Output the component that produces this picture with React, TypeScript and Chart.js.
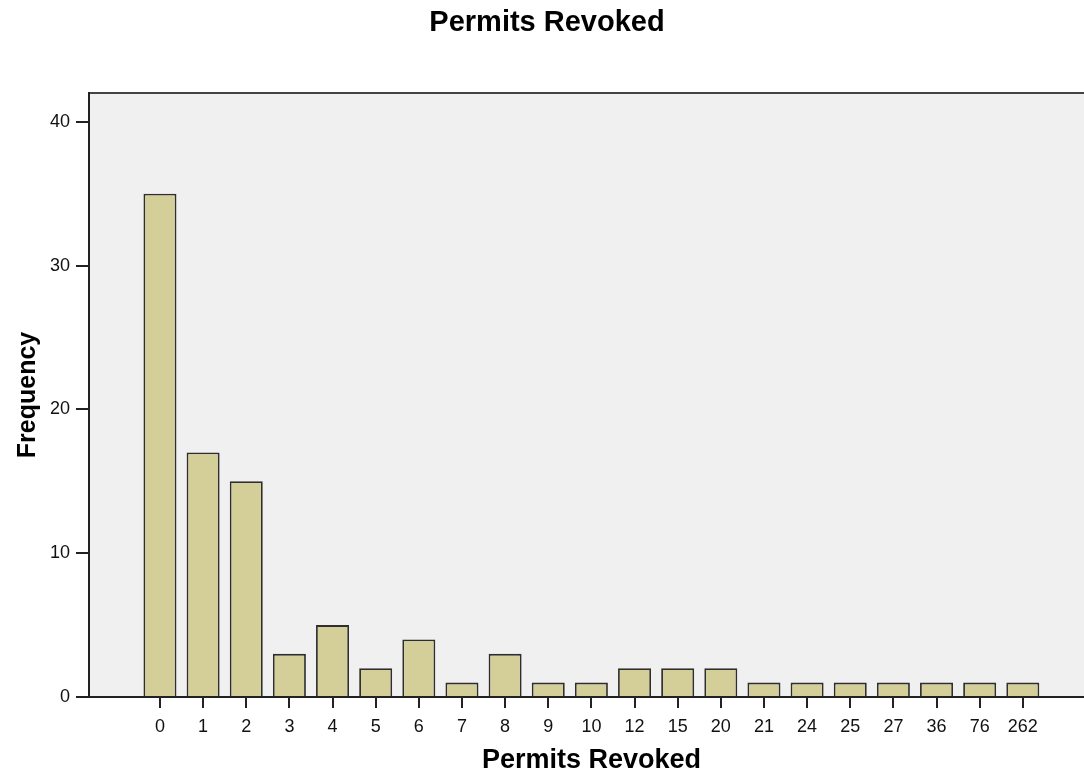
import { useEffect, useRef } from 'react';
import { Chart, registerables } from 'chart.js';
Chart.register(...registerables);

const categories = ['0', '1', '2', '3', '4', '5', '6', '7', '8', '9', '10', '12', '15', '20', '21', '24', '25', '27', '36', '76', '262'];
const frequencies = [35, 17, 15, 3, 5, 2, 4, 1, 3, 1, 1, 2, 2, 2, 1, 1, 1, 1, 1, 1, 1];
const yTicks = [0, 10, 20, 30, 40];

const FONT = "'Liberation Sans', Arial, Helvetica, sans-serif";

const plotBackground = {
  id: 'plotBackground',
  beforeDraw(chart: any) {
    const { ctx, chartArea: a } = chart;
    ctx.save();
    ctx.fillStyle = '#f0f0f0';
    ctx.fillRect(a.left, a.top, a.right - a.left, a.bottom - a.top);
    ctx.strokeStyle = '#444444';
    ctx.lineWidth = 2;
    ctx.beginPath();
    ctx.moveTo(a.left, a.top);
    ctx.lineTo(a.right, a.top);
    ctx.stroke();
    ctx.restore();
  },
};

export default function App() {
  const ref = useRef<HTMLCanvasElement | null>(null);
  useEffect(() => {
    document.body.style.margin = '0';
    const canvas = ref.current!;
    const chart = new Chart(canvas, {
      type: 'bar',
      data: {
        datasets: [
          {
            data: frequencies.map((v, i) => ({ x: i, y: v })),
            backgroundColor: '#d4cf99',
            borderColor: '#2e2e2e',
            borderWidth: 1.8,
            barPercentage: 0.765,
            categoryPercentage: 1,
          } as any,
        ],
      },
      options: {
        responsive: false,
        animation: false,
        layout: { padding: 0 },
        plugins: {
          legend: { display: false },
          tooltip: { enabled: false },
          title: {
            display: true,
            text: 'Permits Revoked',
            color: '#000',
            font: { family: FONT, size: 29, weight: 'bold', lineHeight: 1.2 },
            padding: { top: 6, bottom: 52.2 },
          },
        },
        scales: {
          x: {
            type: 'linear',
            min: -1.645,
            max: 21.65,
            offset: false,
            afterBuildTicks: (s: any) => {
              s.ticks = categories.map((_, i) => ({ value: i }));
            },
            afterFit: (s: any) => {
              s.height = 74;
            },
            ticks: {
              autoSkip: false,
              maxRotation: 0,
              padding: 8,
              color: '#111',
              font: { family: FONT, size: 18 },
              callback: (v: any) => categories[v] ?? '',
            },
            grid: {
              display: true,
              drawOnChartArea: false,
              drawTicks: true,
              tickLength: 11,
              color: '#222',
              lineWidth: 2,
              offset: false,
            },
            border: { display: true, color: '#222', width: 2 },
            title: {
              display: true,
              text: 'Permits Revoked',
              color: '#000',
              font: { family: FONT, size: 27, weight: 'bold', lineHeight: 1 },
              padding: { top: 0, bottom: -3 },
            },
          } as any,
          y: {
            min: 0,
            max: 42,
            afterBuildTicks: (s: any) => {
              s.ticks = yTicks.map((v) => ({ value: v }));
            },
            afterFit: (s: any) => {
              s.width = 89;
            },
            ticks: {
              padding: 6,
              color: '#111',
              font: { family: FONT, size: 18 },
            },
            grid: {
              display: true,
              drawOnChartArea: false,
              drawTicks: true,
              tickLength: 13,
              color: '#222',
              lineWidth: 2,
            },
            border: { display: true, color: '#222', width: 2 },
            title: {
              display: true,
              text: 'Frequency',
              color: '#000',
              font: { family: FONT, size: 25, weight: 'bold', lineHeight: 1 },
              padding: { top: 15.5, bottom: 0 },
            },
          } as any,
        },
      },
      plugins: [plotBackground],
    });
    return () => chart.destroy();
  }, []);
  return (
    <div style={{ width: 1084, height: 771, overflow: 'hidden' }}>
      <canvas
        ref={ref}
        width={1094}
        height={771}
        style={{ display: 'block', width: 1094, height: 771 }}
      />
    </div>
  );
}
